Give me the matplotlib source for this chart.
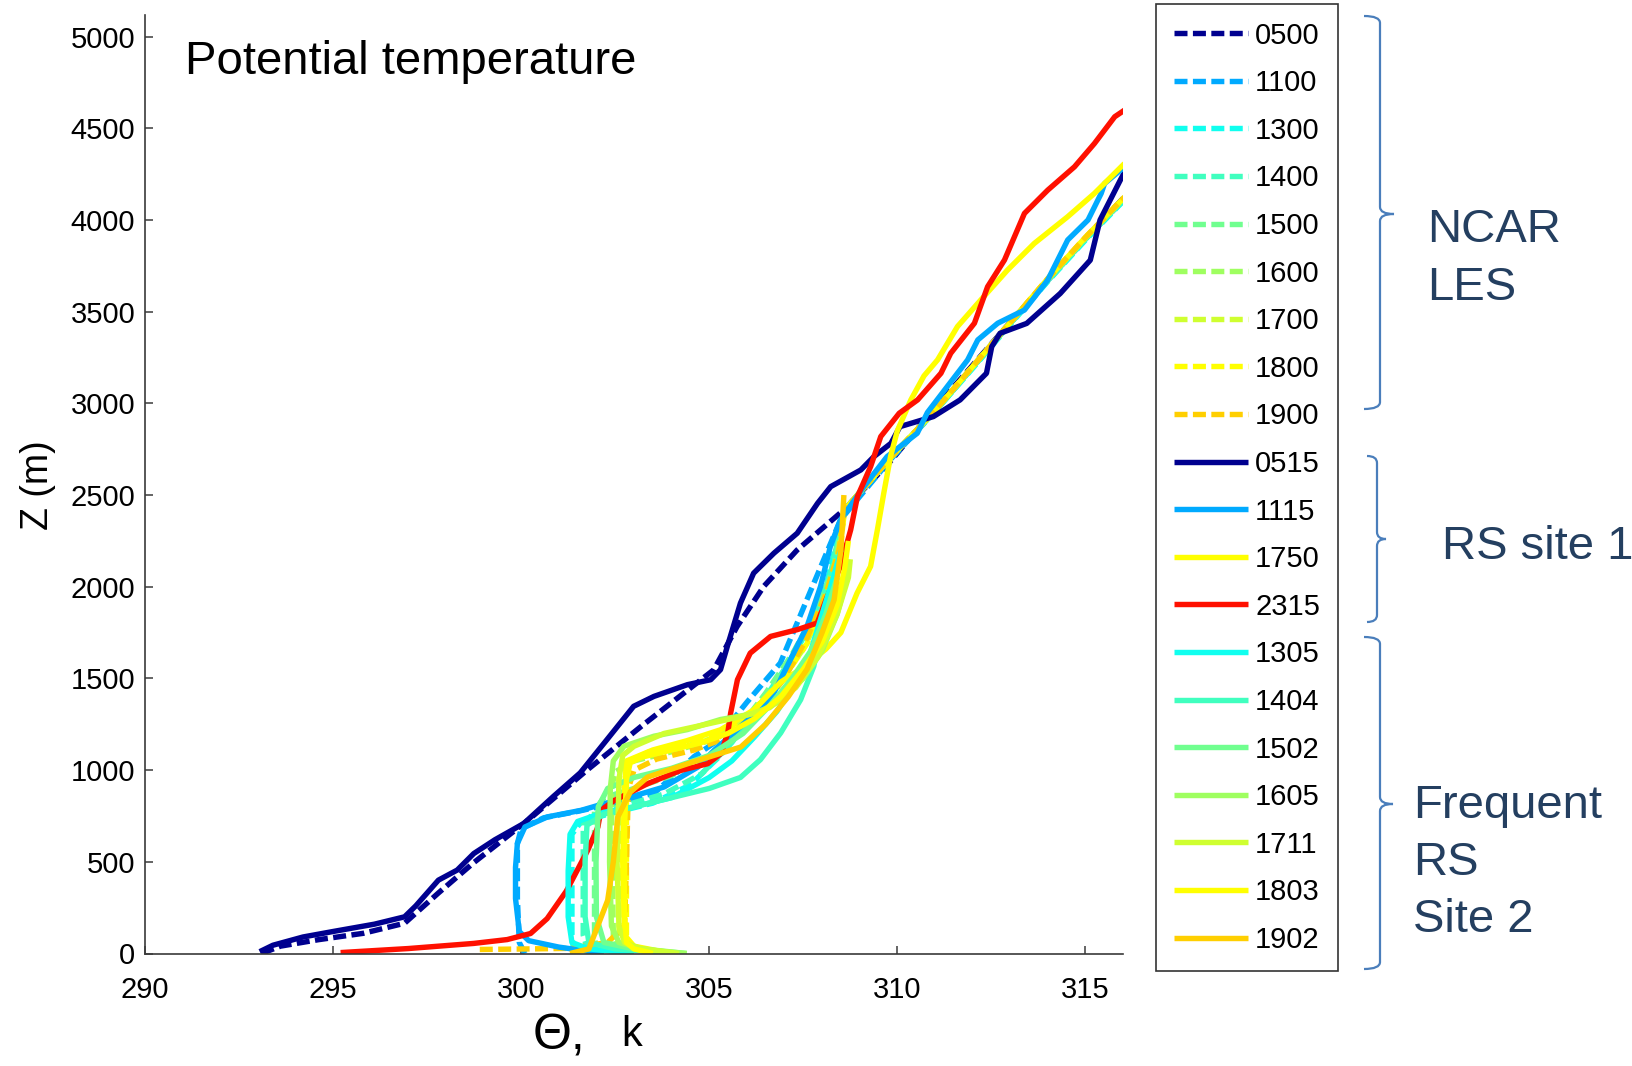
import matplotlib
matplotlib.use("Agg")
import matplotlib.pyplot as plt
from matplotlib.path import Path
from matplotlib.patches import PathPatch

plt.rcParams['font.family'] = ['Liberation Sans', 'DejaVu Sans']

# ---------------- profile data: potential temperature (K) vs height (m) ----------------
# NCAR LES (dashed)
theta_0500 = [293.1, 293.6, 294.6, 295.8, 296.9, 297.8, 298.73, 300.2, 301.75, 303.2, 305.12,
              305.74, 306.45, 307.34, 308.58, 309.8, 310.96, 312.9, 315.04, 316.04]
z_0500 = [0, 40, 75, 110, 165, 330, 494, 730, 1000, 1240, 1547,
          1783, 2002, 2201, 2419, 2680, 2964, 3418, 3908, 4126]

theta_1100 = [300.1, 299.95, 299.9, 299.9, 300.0, 300.6, 301.5, 302.5, 303.54, 304.6, 305.13,
              306.0, 306.89, 307.7, 308.49, 309.8, 311.0, 312.0, 313.0, 314.0, 315.0, 316.04]
z_1100 = [0, 60, 300, 600, 680, 740, 775, 820, 875, 1074, 1148,
          1370, 1584, 1980, 2365, 2690, 2955, 3195, 3435, 3670, 3895, 4115]

theta_1300 = [301.4, 301.35, 301.35, 301.6, 302.5, 303.5, 304.5, 305.3, 306.1, 306.8, 307.5,
              308.1, 308.6, 309.8, 311.0, 312.0, 313.0, 314.0, 315.0, 316.04]
z_1300 = [0, 100, 650, 720, 770, 820, 920, 1080, 1280, 1480, 1720,
          2000, 2420, 2700, 2955, 3190, 3430, 3665, 3890, 4110]

theta_1400 = [301.8, 301.65, 301.65, 301.9, 302.8, 303.8, 304.8, 305.6, 306.4, 307.1, 307.7,
              308.2, 308.6, 309.8, 311.0, 312.0, 313.0, 314.0, 315.0, 316.04]
z_1400 = [0, 100, 700, 760, 810, 870, 980, 1150, 1370, 1580, 1800,
          2050, 2420, 2700, 2955, 3195, 3435, 3670, 3895, 4115]

theta_1500 = [302.0, 301.95, 301.95, 302.2, 303.0, 304.0, 305.0, 305.8, 306.5, 307.2, 307.8,
              308.3, 308.6, 309.8, 311.0, 312.0, 313.0, 314.0, 315.0, 316.04]
z_1500 = [0, 100, 780, 850, 900, 970, 1080, 1230, 1420, 1630, 1850,
          2100, 2420, 2700, 2960, 3200, 3440, 3675, 3900, 4120]

theta_1600 = [302.6, 302.45, 302.4, 302.5, 303.0, 304.0, 305.0, 305.9, 306.7, 307.4, 307.9,
              308.35, 308.6, 309.8, 311.0, 312.0, 313.0, 314.0, 315.0, 316.04]
z_1600 = [0, 100, 900, 990, 1050, 1100, 1160, 1270, 1440, 1640, 1850,
          2100, 2420, 2700, 2960, 3200, 3440, 3675, 3900, 4120]

theta_1700 = [302.75, 302.6, 302.6, 302.7, 303.2, 304.2, 305.2, 306.0, 306.8, 307.5, 308.0,
              308.4, 308.6, 309.8, 311.0, 312.0, 313.0, 314.0, 315.0, 316.04]
z_1700 = [0, 100, 950, 1030, 1080, 1120, 1180, 1290, 1460, 1660, 1870,
          2120, 2420, 2700, 2960, 3200, 3440, 3680, 3905, 4125]

theta_1800 = [302.9, 302.8, 302.8, 302.9, 303.4, 304.4, 305.3, 306.1, 306.9, 307.6, 308.1,
              308.45, 308.6, 309.8, 311.0, 312.0, 313.0, 314.0, 315.0, 316.04]
z_1800 = [0, 100, 980, 1050, 1100, 1140, 1200, 1310, 1480, 1690, 1900,
          2150, 2420, 2700, 2960, 3200, 3440, 3680, 3905, 4125]

theta_1900 = [298.9, 299.8, 300.6, 301.3, 302.3, 302.75, 302.8, 302.85, 303.0, 303.6, 304.6,
              305.5, 306.3, 307.0, 307.6, 308.1, 308.45, 308.6, 309.8, 311.0, 312.0, 313.0,
              314.0, 315.0, 316.04]
z_1900 = [22, 24, 26, 28, 60, 150, 500, 900, 1000, 1060, 1110,
          1180, 1320, 1500, 1720, 1960, 2200, 2420, 2700, 2960, 3200, 3440,
          3680, 3905, 4125]

# RS site 1 (solid)
theta_0515 = [293.05, 293.4, 294.2, 295.0, 296.1, 296.9, 297.2, 297.8, 298.3, 298.74, 299.3,
              300.07, 300.86, 301.57, 302.28, 302.99, 303.53, 304.42, 305.04, 305.3, 305.48,
              305.83, 306.18, 306.72, 307.34, 307.88, 308.23, 309.03, 309.38, 309.83, 310.07,
              310.96, 311.67, 312.37, 312.51, 312.73, 313.44, 314.33, 315.13, 315.39, 315.93,
              316.04]
z_0515 = [10, 45, 90, 120, 160, 200, 260, 400, 455, 545, 620,
          709, 857, 985, 1166, 1348, 1402, 1466, 1493, 1548, 1674,
          1911, 2074, 2183, 2292, 2455, 2546, 2637, 2710, 2782, 2873,
          2928, 3019, 3164, 3309, 3382, 3436, 3599, 3781, 4000, 4218,
          4260]

theta_1115 = [302.2, 301.0, 300.2, 299.95, 299.85, 299.85, 299.9, 300.1, 300.7, 301.6, 302.2,
              302.9, 303.8, 304.7, 305.13, 305.9, 306.63, 307.07, 307.6, 307.96, 308.22,
              308.49, 309.11, 309.73, 310.53, 310.8, 311.87, 312.14, 312.67, 313.38, 314.0,
              314.53, 315.07, 315.42, 315.51, 316.04]
z_1115 = [0, 35, 70, 120, 300, 470, 600, 690, 745, 781, 817,
          853, 908, 1017, 1108, 1250, 1384, 1566, 1784, 2002, 2220,
          2365, 2546, 2710, 2837, 2950, 3237, 3346, 3437, 3509, 3673,
          3891, 4000, 4145, 4199, 4290]

theta_1750 = [304.0, 303.0, 302.75, 302.7, 302.75, 302.8, 303.5, 304.4, 305.3, 306.2, 306.9,
              307.5, 308.1, 308.5, 308.93, 309.29, 309.47, 309.64, 309.82, 310.0, 310.36,
              310.71, 311.07, 311.6, 312.22, 312.93, 313.64, 314.53, 315.24, 316.04]
z_1750 = [0, 40, 100, 500, 900, 1050, 1110, 1160, 1220, 1330, 1480,
          1560, 1660, 1750, 1965, 2111, 2310, 2510, 2710, 2850, 3019,
          3150, 3237, 3419, 3564, 3727, 3872, 4018, 4145, 4308]

theta_2315 = [295.2, 297.0, 298.74, 299.63, 300.25, 300.69, 301.2, 301.77, 302.04, 302.12, 302.48,
              303.36, 304.25, 304.96, 305.31, 305.49, 305.57, 305.75, 306.09, 306.63, 307.34,
              307.87, 308.14, 308.49, 308.76, 308.94, 309.29, 309.56, 310.05, 310.54, 311.16,
              311.42, 312.05, 312.4, 312.85, 313.38, 314.0, 314.71, 315.24, 315.78, 316.04]
z_2315 = [5, 27, 55, 76, 109, 190, 340, 563, 690, 781, 835,
          926, 999, 1035, 1090, 1199, 1312, 1493, 1638, 1729, 1766,
          1802, 1947, 2111, 2310, 2492, 2655, 2819, 2946, 3019, 3164,
          3273, 3437, 3636, 3782, 4036, 4163, 4290, 4417, 4563, 4599]

# Frequent RS site 2 (solid)
theta_1305 = [303.0, 301.8, 301.35, 301.25, 301.25, 301.3, 301.5, 302.2, 303.0, 304.0, 305.0,
              305.6, 306.2, 306.8, 307.3, 307.7, 308.0, 308.3, 308.5]
z_1305 = [0, 25, 60, 200, 450, 650, 720, 770, 800, 850, 960,
          1050, 1180, 1320, 1480, 1650, 1850, 2050, 2200]

theta_1404 = [304.2, 302.5, 301.8, 301.7, 301.7, 301.75, 302.2, 303.0, 304.0, 305.0, 305.83,
              306.36, 306.9, 307.43, 307.78, 307.96, 308.14, 308.4]
z_1404 = [0, 25, 60, 200, 500, 700, 760, 800, 850, 900, 960,
          1057, 1203, 1384, 1566, 1747, 1856, 2050]

theta_1502 = [304.4, 303.0, 302.2, 302.0, 301.99, 302.05, 302.3, 303.0, 304.0, 305.0, 305.9,
              306.6, 307.2, 307.7, 308.1, 308.4]
z_1502 = [0, 25, 60, 200, 500, 800, 900, 960, 1010, 1080, 1200,
          1350, 1500, 1650, 1850, 2050]

theta_1605 = [304.4, 303.2, 302.6, 302.4, 302.35, 302.37, 302.45, 302.73, 303.53, 304.42, 305.3,
              306.27, 306.9, 307.5, 308.0, 308.4, 308.6, 308.65]
z_1605 = [0, 25, 60, 150, 500, 900, 1050, 1130, 1185, 1221, 1276,
          1311, 1380, 1500, 1650, 1850, 2000, 2120]

theta_1711 = [304.2, 303.2, 302.75, 302.6, 302.55, 302.6, 302.7, 303.0, 303.8, 304.7, 305.47,
              306.0, 306.6, 307.3, 307.9, 308.4, 308.7, 308.75]
z_1711 = [0, 25, 60, 150, 500, 950, 1080, 1130, 1200, 1240, 1275,
          1300, 1340, 1450, 1620, 1850, 2050, 2150]

theta_1803 = [303.5, 303.0, 302.8, 302.75, 302.75, 302.8, 302.9, 303.2, 304.0, 304.8, 305.5,
              306.2, 306.9, 307.5, 308.0, 308.4, 308.6, 308.7]
z_1803 = [0, 25, 60, 200, 700, 950, 1040, 1070, 1110, 1150, 1200,
          1280, 1400, 1550, 1700, 1900, 2100, 2250]

theta_1902 = [301.3, 301.8, 302.3, 302.45, 302.57, 302.9, 303.36, 304.5, 305.84, 306.5, 307.1,
              307.6, 308.0, 308.32, 308.5, 308.58]
z_1902 = [0, 25, 290, 500, 745, 880, 962, 1040, 1126, 1250, 1400,
          1550, 1750, 1929, 2200, 2500]

# ---------------- series styling ----------------
labels = ['0500', '1100', '1300', '1400', '1500', '1600', '1700', '1800', '1900',
          '0515', '1115', '1750', '2315',
          '1305', '1404', '1502', '1605', '1711', '1803', '1902']
colors = ['#00008F', '#00AAFF', '#10FFEF', '#40FFBF', '#70FF8F', '#9FFF60', '#CFFF30', '#FFFF00', '#FFCF00',
          '#00008F', '#00AAFF', '#FFFF00', '#FF1000',
          '#10FFEF', '#40FFBF', '#70FF8F', '#9FFF60', '#CFFF30', '#FFFF00', '#FFCF00']
dashed = [True] * 9 + [False] * 11
thetas = [theta_0500, theta_1100, theta_1300, theta_1400, theta_1500, theta_1600, theta_1700,
          theta_1800, theta_1900, theta_0515, theta_1115, theta_1750, theta_2315,
          theta_1305, theta_1404, theta_1502, theta_1605, theta_1711, theta_1803, theta_1902]
heights = [z_0500, z_1100, z_1300, z_1400, z_1500, z_1600, z_1700,
           z_1800, z_1900, z_0515, z_1115, z_1750, z_2315,
           z_1305, z_1404, z_1502, z_1605, z_1711, z_1803, z_1902]

W, H = 1633, 1066
fig = plt.figure(figsize=(W / 100, H / 100), dpi=100)
fig.patch.set_facecolor('white')


def fx(px):
    return px / W


def fy(py):
    return 1 - py / H


ax_left, ax_right, ax_bottom, ax_top = 145, 1123, 953.5, 14.6
ax = fig.add_axes([fx(ax_left), fy(ax_bottom), fx(ax_right - ax_left), (ax_bottom - ax_top) / H])

handles = []
for lab, th, zz, c, d in zip(labels, thetas, heights, colors, dashed):
    if d:
        ln, = ax.plot(th, zz, color=c, lw=3.9, ls='--', dashes=(2.4, 1.0),
                      dash_capstyle='butt', label=lab)
    else:
        ln, = ax.plot(th, zz, color=c, lw=3.9, ls='-', solid_capstyle='butt', label=lab)
    handles.append(ln)

ax.set_xlim(290, 316)
ax.set_ylim(0, 5120)
ax.set_xticks(range(290, 316, 5))
ax.set_yticks(range(0, 5001, 500))
for s in ('top', 'right'):
    ax.spines[s].set_visible(False)
for s in ('left', 'bottom'):
    ax.spines[s].set_color('#3a3a3a')
    ax.spines[s].set_linewidth(1.2)
ax.tick_params(axis='both', direction='in', length=6, width=1.1, colors='#3a3a3a',
               labelcolor='black', labelsize=21)
ax.tick_params(axis='y', pad=7)
ax.tick_params(axis='x', pad=16)

# annotations around the axes
fig.text(fx(185), fy(74), 'Potential temperature', fontsize=34, va='baseline', ha='left')
fig.text(fx(38), fy(485), 'Z (m)', fontsize=27, rotation=90, ha='center', va='center')
fig.text(fx(533), fy(1050), 'Θ,', fontsize=36, va='baseline', ha='left')
fig.text(fx(621), fy(1046), 'k', fontsize=30, va='baseline', ha='left')

# legend
leg = fig.legend(handles, labels, loc='upper left', bbox_to_anchor=(fx(1156), fy(4)),
                 bbox_transform=fig.transFigure, fontsize=21, frameon=True, fancybox=False,
                 edgecolor='#333333', framealpha=1, handlelength=2.55, handletextpad=0.25,
                 labelspacing=0.672, borderpad=0.6, borderaxespad=0)
leg.get_frame().set_linewidth(1.2)

# group braces
brace_color = '#4A7EBB'


def brace(xl, xm, xt, yt, ym, yb, r=7):
    pts = [(xl, yt), (xm, yt), (xm, yt + r),
           (xm, ym - r), (xm, ym), (xt, ym),
           (xm, ym), (xm, ym + r),
           (xm, yb - r), (xm, yb), (xl, yb)]
    codes = [Path.MOVETO, Path.CURVE3, Path.CURVE3,
             Path.LINETO, Path.CURVE3, Path.CURVE3,
             Path.CURVE3, Path.CURVE3,
             Path.LINETO, Path.CURVE3, Path.CURVE3]
    verts = [(fx(x), fy(y)) for x, y in pts]
    fig.add_artist(PathPatch(Path(verts, codes), fill=False, edgecolor=brace_color,
                             lw=1.6, transform=fig.transFigure))


brace(1364, 1380, 1394, 16, 214, 409)
brace(1367, 1377, 1386, 456, 539, 622)
brace(1364, 1380, 1393, 637, 804, 969)

group_color = '#243F60'
fig.text(fx(1427), fy(241.6), 'NCAR', fontsize=34, color=group_color, va='baseline')
fig.text(fx(1427), fy(300), 'LES', fontsize=34, color=group_color, va='baseline')
fig.text(fx(1442), fy(559), 'RS site 1', fontsize=34, color=group_color, va='baseline')
fig.text(fx(1413), fy(817.5), 'Frequent', fontsize=34, color=group_color, va='baseline')
fig.text(fx(1413), fy(875), 'RS', fontsize=34, color=group_color, va='baseline')
fig.text(fx(1413), fy(932), 'Site 2', fontsize=34, color=group_color, va='baseline')

fig.savefig('out.png', dpi=100, facecolor='white')
